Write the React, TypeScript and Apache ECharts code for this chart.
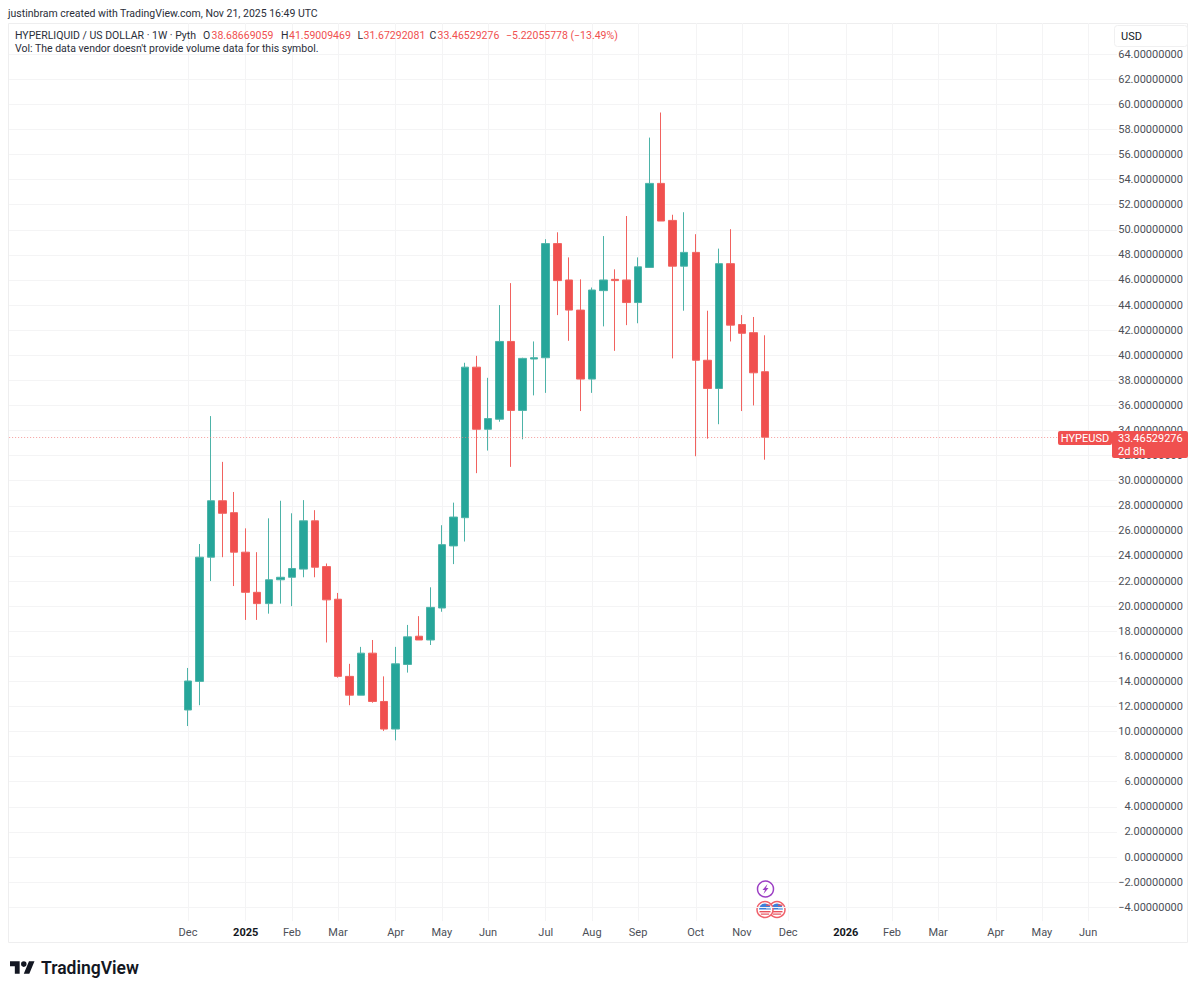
import React, { useEffect, useRef } from "react";
import * as echarts from "echarts";

const opens = [11.72,14.0,23.9,28.4,27.45,24.3,21.1,20.2,22.1,22.3,22.95,26.8,23.15,20.55,14.4,12.9,16.25,12.4,10.2,15.35,17.6,17.3,19.85,24.8,27.05,39.05,34.1,34.9,41.1,35.6,39.7,39.8,48.9,46.0,43.6,38.1,45.15,46.05,46.0,44.2,47.0,53.7,50.75,47.1,48.2,39.6,37.35,47.3,42.45,41.8,38.68669059];
const closes = [14.03,23.9,28.4,27.4,24.3,21.1,20.2,22.1,22.3,23.0,26.8,23.1,20.5,14.4,12.9,16.25,12.4,10.2,15.4,17.55,17.3,19.9,24.9,27.1,39.05,34.1,34.95,41.1,35.6,39.75,39.8,48.9,45.95,43.6,38.1,45.2,46.0,45.95,44.2,47.05,53.7,50.7,47.1,48.2,39.6,37.35,47.3,42.4,41.75,38.6,33.46529276];
const highs = [15.07,24.95,35.15,31.5,29.1,26.2,24.3,27.0,28.4,27.4,28.45,27.65,23.4,21.05,15.4,16.75,17.3,14.4,16.75,18.5,19.2,21.5,26.45,28.25,39.4,39.95,38.2,44.0,45.75,39.8,41.1,49.25,49.8,47.8,46.05,45.4,49.5,46.85,51.1,47.8,57.35,59.35,51.2,51.4,49.65,43.55,48.5,50.05,43.2,43.05,41.59009469];
const lows = [10.44,12.1,22.0,23.9,21.6,18.9,18.9,19.4,20.2,20.0,22.3,22.3,17.1,14.3,12.1,12.9,12.3,10.05,9.3,14.7,17.3,16.9,19.55,23.35,25.15,30.6,32.4,34.7,31.1,33.3,36.8,37.0,43.2,41.15,35.55,37.0,42.3,40.35,42.4,42.55,47.0,50.7,39.75,43.55,31.95,33.35,34.5,41.1,35.55,36.0,31.67292081];

const firstCandleIndex = 15;
const categoryCount = 96;
const tickIndexes = [15,20,24,28,33,37,41,46,50,54,59,63,67,72,76,80,85,89,93];
const tickLabels = ["Dec","2025","Feb","Mar","Apr","May","Jun","Jul","Aug","Sep","Oct","Nov","Dec","2026","Feb","Mar","Apr","May","Jun"];
const priceTicks = [-4,-2,0,2,4,6,8,10,12,14,16,18,20,22,24,26,28,30,32,34,36,38,40,42,44,46,48,50,52,54,56,58,60,62,64];
const lastPrice = 33.46529276;

const GREEN = "#26A69A";
const RED = "#F0504F";
const FONT = "Roboto, Inter, sans-serif";

echarts.graphic.registerShape(
  "tvlogo",
  echarts.graphic.extendPath(
    "M14 22H7V11H0V4h14v18zM28 22h-8l7.5-18h8L28 22zM24 8a4 4 0 1 1-8 0a4 4 0 1 1 8 0z",
    {}
  )
);
echarts.graphic.registerShape(
  "bolt",
  echarts.graphic.extendPath("M2 -5L-3 1H-0.5L-2 5L3 -1H0.5z", {})
);

function txt(x: number, y: number, text: string, fill = "#2a2e39", size = 10.5, extra: any = {}) {
  return {
    type: "text",
    x,
    y,
    z: 50,
    silent: true,
    style: { text, fill, font: `${extra.weight || "normal"} ${size}px ${FONT}`, textVerticalAlign: "middle", textAlign: extra.align || "left" },
  };
}

function flag(cx: number, cy: number) {
  return {
    type: "group",
    x: cx,
    y: cy,
    z: 40,
    silent: true,
    children: [
      { type: "circle", shape: { cx: 0, cy: 0, r: 8 }, style: { fill: "#fff", stroke: "#F0606A", lineWidth: 1.5 } },
      { type: "rect", shape: { x: -5.5, y: 1.5, width: 11, height: 1.4 }, style: { fill: "#E8505B" } },
      { type: "rect", shape: { x: -4.2, y: 4, width: 8.4, height: 1.2 }, style: { fill: "#E8505B" } },
      { type: "sector", shape: { cx: 0, cy: 0, r0: 0, r: 6, startAngle: Math.PI, endAngle: Math.PI * 2 }, style: { fill: "#3D7FD9" } },
      { type: "rect", shape: { x: 1, y: -5, width: 4.5, height: 1.3 }, style: { fill: "#E8505B" } },
      { type: "rect", shape: { x: 1, y: -2.4, width: 5.5, height: 1.3 }, style: { fill: "#fff" } },
    ],
  };
}

export default function App() {
  const ref = useRef<HTMLDivElement>(null);
  useEffect(() => {
    document.body.style.margin = "0";
    document.body.style.background = "#fff";
    const chart = echarts.init(ref.current!, undefined, { renderer: "svg" });
    const start = Date.UTC(2024, 7, 19);
    const categories = Array.from({ length: categoryCount }, (_, i) =>
      new Date(start + i * 7 * 86400000).toISOString().slice(0, 10)
    );
    const candleData = opens.map((o, i) => [i + firstCandleIndex, o, closes[i], lows[i], highs[i]]);
    const tickMap = new Map(tickIndexes.map((idx, i) => [idx, tickLabels[i]]));
    const tickFilter = (i: number) => tickMap.has(i);

    chart.setOption({
      animation: false,
      backgroundColor: "#ffffff",
      textStyle: { fontFamily: FONT },
      grid: { left: 9.13, top: 23, width: 1107.84, height: 898, containLabel: false },
      xAxis: {
        type: "category",
        data: categories,
        boundaryGap: true,
        axisLine: { show: false },
        axisTick: { show: false },
        axisLabel: {
          interval: tickFilter,
          margin: 6,
          fontSize: 11,
          color: "#4c4f57",
          fontFamily: FONT,
          hideOverlap: false,
          formatter: (_: string, i: number) => {
            const t = tickMap.get(i) || "";
            return /^\d+$/.test(t) ? `{y|${t}}` : t;
          },
          rich: { y: { fontWeight: "bold", fontSize: 11, color: "#131722", fontFamily: FONT } },
        },
        splitLine: { show: true, interval: tickFilter, alignWithLabel: true, lineStyle: { color: "#f4f4f5", width: 1 } },
      },
      yAxis: {
        type: "value",
        position: "right",
        min: -5.102,
        max: 66.486,
        scale: true,
        axisLine: { show: false },
        axisTick: { show: false, customValues: priceTicks },
        axisLabel: {
          customValues: priceTicks,
          align: "right",
          margin: 66,
          fontSize: 11,
          color: "#4c4f57",
          fontFamily: FONT,
          hideOverlap: false,
          formatter: (v: number) => (v < 0 ? "\u2212" + Math.abs(v).toFixed(8) : v.toFixed(8)),
        },
        splitLine: { show: true, lineStyle: { color: "#f4f4f5", width: 1 } },
      },
      series: [
        {
          type: "candlestick",
          name: "HYPEUSD",
          data: candleData,
          encode: { x: 0, y: [1, 2, 3, 4] },
          barWidth: 8,
          itemStyle: { color: GREEN, color0: RED, borderColor: "#4DB3A8", borderColor0: "#F1625F", borderWidth: 1 },
          markLine: {
            silent: true,
            symbol: "none",
            animation: false,
            label: { show: false },
            lineStyle: { color: "#F27F7E", opacity: 0.75, type: [1, 2], width: 1 },
            data: [{ yAxis: lastPrice }],
          },
        },
      ],
      graphic: [
        { type: "rect", z: 0, silent: true, shape: { x: 8.5, y: 23.5, width: 1179, height: 919 }, style: { fill: "none", stroke: "#eeeeef", lineWidth: 1 } },
        txt(8, 13, "justinbram created with TradingView.com, Nov 21, 2025 16:49 UTC"),
        txt(15, 35, "HYPERLIQUID / US DOLLAR \u00b7 1W \u00b7 Pyth"),
        txt(203, 35, "O"),
        txt(211.5, 35, "38.68669059", RED),
        txt(281, 35, "H"),
        txt(289, 35, "41.59009469", RED),
        txt(357.5, 35, "L"),
        txt(363.5, 35, "31.67292081", RED),
        txt(429.5, 35, "C"),
        txt(437.5, 35, "33.46529276", RED),
        txt(506, 35, "\u22125.22055778 (\u221213.49%)", RED),
        txt(15, 48, "Vol: The data vendor doesn't provide volume data for this symbol."),
        { type: "rect", z: 45, silent: true, shape: { x: 1114.5, y: 25.5, width: 73, height: 21, r: 3 }, style: { fill: "#fff", stroke: "#f0f0f1", lineWidth: 1 } },
        txt(1121, 36, "USD", "#131722", 11),
        { type: "rect", z: 45, silent: true, shape: { x: 1058, y: 431, width: 54, height: 14, r: 2 }, style: { fill: RED } },
        txt(1085, 438.5, "HYPEUSD", "#fff", 11, { align: "center" }),
        { type: "rect", z: 45, silent: true, shape: { x: 1112, y: 431, width: 76, height: 27, r: 2 }, style: { fill: RED } },
        txt(1118, 438.5, "33.46529276", "#fff", 11),
        txt(1118, 451, "2d 8h", "#fff", 11),
        { type: "circle", z: 40, silent: true, shape: { cx: 765.5, cy: 889, r: 8 }, style: { fill: "#fff", stroke: "#9C3FC4", lineWidth: 1.5 } },
        { type: "bolt", z: 41, silent: true, x: 765.5, y: 889, style: { fill: "#9C3FC4" } },
        flag(777, 909.5),
        flag(765, 909.5),
        { type: "tvlogo", z: 50, silent: true, x: 10, y: 958.6, scaleX: 0.69, scaleY: 0.69, style: { fill: "#131722" } },
        txt(41, 968, "TradingView", "#131722", 17.5, { weight: "600" }),
      ],
    });
    return () => chart.dispose();
  }, []);
  return <div ref={ref} style={{ width: 1200, height: 993, display: "block" }} />;
}
